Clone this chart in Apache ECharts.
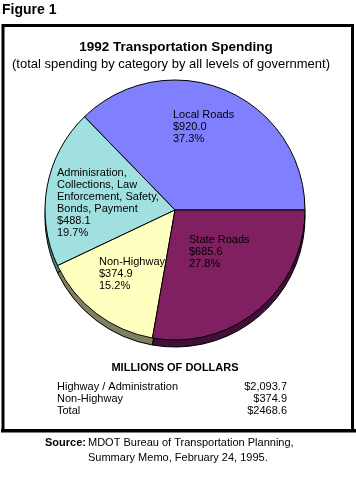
<!DOCTYPE html>
<html><head><meta charset="utf-8">
<script src="https://cdn.jsdelivr.net/npm/echarts@6/dist/echarts.min.js"></script>
<style>html,body{margin:0;padding:0;background:#fff}#c{width:356px;height:480px}</style>
</head><body><div id="c"></div>
<script>
const categories = ['Local Roads', 'Adminisration,\nCollections, Law\nEnforcement, Safety,\nBonds, Payment', 'Non-Highway', 'State Roads'];
const values = [920.0, 488.1, 374.9, 685.6];
const percents = [37.3, 19.7, 15.2, 27.8];
const tableLabels = ['Highway / Administration', 'Non-Highway', 'Total'];
const tableValues = ['$2,093.7', '$374.9', '$2468.6'];

const colors = ['#8080ff', '#a0e0e0', '#ffffc0', '#802060'];
const sideColors = ['#404080', '#508080', '#808060', '#401038'];
const labelPos = [[173, 109], [57, 167], [99, 256], [189, 234]];
const FONT = '"Liberation Sans", Arial, sans-serif';

const chart = echarts.init(document.getElementById('c'), null, {renderer: 'canvas'});

const topData = categories.map((n, i) => ({name: n, value: values[i], itemStyle: {color: colors[i]}}));
const sideData = categories.map((n, i) => ({name: n, value: values[i], itemStyle: {color: sideColors[i]}}));

const graphics = [
  {type: 'rect', shape: {x: 3, y: 25.5, width: 349.5, height: 405}, style: {fill: 'none', stroke: '#000', lineWidth: 3}, z: 10},
  {type: 'rect', shape: {x: 1, y: 429, width: 355, height: 3.5}, style: {fill: '#000'}, z: 10},
  {type: 'text', left: 2, top: 3, style: {text: 'Figure 1', font: 'bold 14px ' + FONT, fill: '#000'}},
  {type: 'text', x: 176, y: 47, style: {text: '1992 Transportation Spending', font: 'bold 13.5px ' + FONT, fill: '#000', textAlign: 'center', textVerticalAlign: 'middle'}},
  {type: 'text', x: 171, y: 64, style: {text: '(total spending by category by all levels of government)', font: '13px ' + FONT, fill: '#000', textAlign: 'center', textVerticalAlign: 'middle'}},
  {type: 'text', x: 175, y: 368, style: {text: 'MILLIONS OF DOLLARS', font: 'bold 11px ' + FONT, fill: '#000', textAlign: 'center', textVerticalAlign: 'middle'}},
  {type: 'text', x: 45, y: 443, style: {text: 'Source:', font: 'bold 11px ' + FONT, fill: '#000', textVerticalAlign: 'middle'}},
  {type: 'text', x: 88, y: 443, style: {text: 'MDOT Bureau of Transportation Planning,', font: '11px ' + FONT, fill: '#000', textVerticalAlign: 'middle'}},
  {type: 'text', x: 88, y: 458, style: {text: 'Summary Memo, February 24, 1995.', font: '11px ' + FONT, fill: '#000', textVerticalAlign: 'middle'}}
];
tableLabels.forEach((t, i) => {
  graphics.push({type: 'text', x: 57, y: 387 + i * 12, style: {text: t, font: '11px ' + FONT, fill: '#000', textVerticalAlign: 'middle'}});
  graphics.push({type: 'text', x: 287, y: 387 + i * 12, style: {text: tableValues[i], font: '11px ' + FONT, fill: '#000', textAlign: 'right', textVerticalAlign: 'middle'}});
});

chart.setOption({
  animation: false,
  backgroundColor: '#fff',
  graphic: graphics,
  series: [
    {
      type: 'pie', z: 1, silent: true,
      center: [175, 217], radius: 130,
      startAngle: 0, clockwise: false,
      label: {show: false}, labelLine: {show: false},
      itemStyle: {borderColor: '#000', borderWidth: 1},
      emphasis: {disabled: true},
      data: sideData
    },
    {
      type: 'pie', z: 2, silent: true,
      center: [175, 210], radius: 130,
      startAngle: 0, clockwise: false,
      itemStyle: {borderColor: '#000', borderWidth: 1},
      emphasis: {disabled: true},
      labelLine: {show: false},
      label: {
        show: true, position: 'inside',
        fontFamily: FONT, fontSize: 11, lineHeight: 12, color: '#000', align: 'left',
        formatter: p => p.name + '\n$' + values[p.dataIndex].toFixed(1) + '\n' + percents[p.dataIndex].toFixed(1) + '%'
      },
      labelLayout: p => ({x: labelPos[p.dataIndex][0], y: labelPos[p.dataIndex][1], align: 'left', verticalAlign: 'top'}),
      data: topData
    }
  ]
});
</script></body></html>
